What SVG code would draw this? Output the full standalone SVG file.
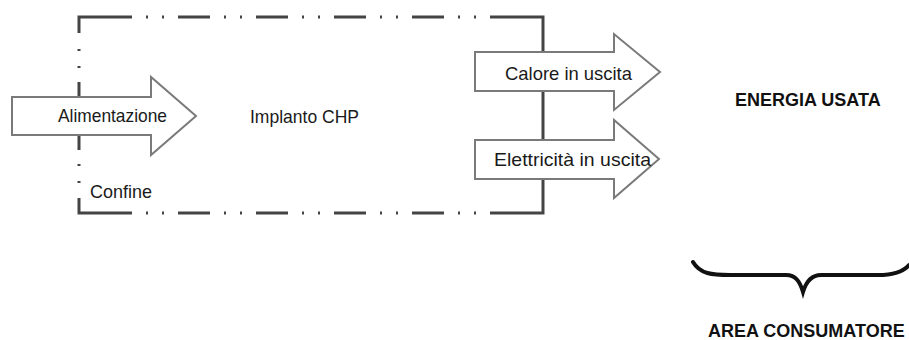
<svg xmlns="http://www.w3.org/2000/svg" width="909" height="340" viewBox="0 0 909 340">
<style>
.bd{fill:none;stroke:#444;stroke-width:3;stroke-linecap:butt;stroke-linejoin:miter}
.dd{stroke-dasharray:2 14 2 14 32 14}
.ar{fill:#fff;stroke:#7a7a7a;stroke-width:2;stroke-linejoin:miter}
.t{font-family:"Liberation Sans",Arial,sans-serif;fill:#1a1a1a;font-size:18.5px}
.b{font-family:"Liberation Sans",Arial,sans-serif;fill:#111;font-size:18px;font-weight:bold}
</style>
<rect width="909" height="340" fill="#fff"/>
<g id="connectors">
<g id="boundary">
<path class="bd" d="M79,33 V17 H132"/>
<path class="bd dd" d="M146,17 H490"/>
<path class="bd" d="M490,17 H543 V213 H490"/>
<path class="bd dd" d="M146,213 H490"/>
<path class="bd" d="M132,213 H79 V198"/>
<path class="bd" d="M79,49 V51 M79,66 V68 M79,82 V150 M79,164 V166 M79,181 V183"/>
</g>
<path id="brace" d="M693,262 C700,274 712,275 730,275 L786,275 C796,275 800,282 803,292 C806,282 811,275 821,275 L878,275 C893,275 903,272 909,265" fill="none" stroke="#111" stroke-width="4" stroke-linecap="round"/>
</g>
<g id="alimentazione">
<polygon class="ar" points="12,97 151,97 151,77 196,116 151,155 151,135 12,135"/>
<text class="t" x="58" y="122" textLength="109" lengthAdjust="spacingAndGlyphs">Alimentazione</text>
</g>
<g id="calore">
<polygon class="ar" points="475,52 614,52 614,34 660,72 614,110 614,91 475,91"/>
<text class="t" x="505" y="80" textLength="127" lengthAdjust="spacingAndGlyphs">Calore in uscita</text>
</g>
<g id="elettricita">
<polygon class="ar" points="475,140 614,140 614,120 659,159 614,198 614,179 475,179"/>
<text class="t" x="494" y="166" textLength="157" lengthAdjust="spacingAndGlyphs">Elettricità in uscita</text>
</g>
<g id="impianto">
<text class="t" x="250" y="123" textLength="109" lengthAdjust="spacingAndGlyphs">Implanto CHP</text>
</g>
<g id="confine">
<text class="t" x="90" y="198" textLength="62" lengthAdjust="spacingAndGlyphs">Confine</text>
</g>
<g id="energia">
<text class="b" x="735" y="106">ENERGIA USATA</text>
</g>
<g id="area">
<text class="b" x="708" y="337">AREA CONSUMATORE</text>
</g>
</svg>
